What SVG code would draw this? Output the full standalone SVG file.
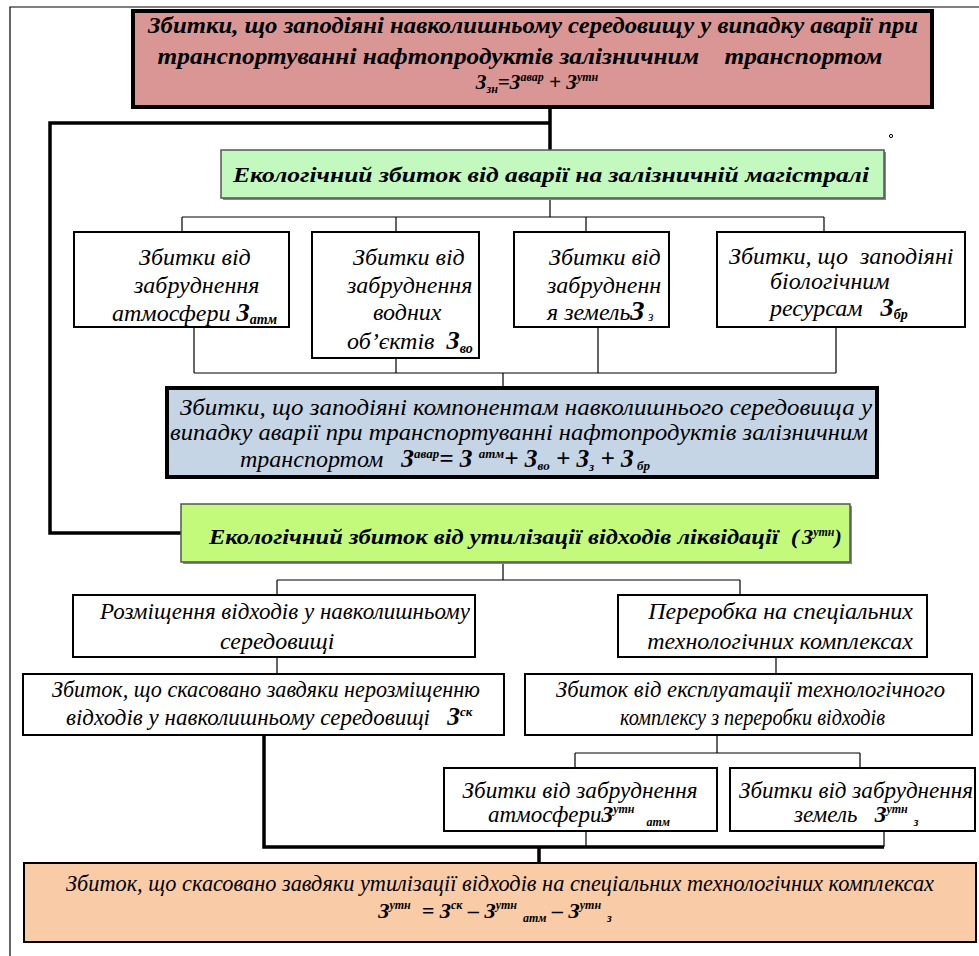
<svg xmlns="http://www.w3.org/2000/svg" width="979" height="956" viewBox="0 0 979 956">
<defs>
<style>
.bx{stroke:#000;stroke-width:2;fill:#fff}
.thk{stroke:#000;stroke-width:4}
.gr{stroke:#555;stroke-width:1.5}
.sh{fill:#8a8a8a}
.ln{stroke:#000;stroke-width:1.2;fill:none}
.tl{stroke:#000;stroke-width:3.5;fill:none}
</style>
</defs>
<path d="M10,956 V7 H979" fill="none" stroke="#000" stroke-width="1.2"/>
<circle cx="891" cy="136" r="1.6" fill="none" stroke="#000" stroke-width="1"/>
<g id="connectors">
<path class="tl" d="M550,107 V150 M550,123 H50 V533 H181"/>
<path class="ln" d="M550,198 V217 M182,217 H824 M182,217 V232 M396,217 V232 M586,217 V232 M824,217 V232"/>
<path class="ln" d="M194,327 V373 M396,358 V373 M598,327 V373 M836,327 V373 M194,373 H836 M503,373 V388"/>
<path class="ln" d="M503,562 V580 M277,580 H740 M277,580 V595 M740,580 V595"/>
<path class="ln" d="M277,657 V674 M776,657 V674 M717,735 V753 M575,753 H860 M575,753 V768 M860,753 V768"/>
<path class="ln" d="M586,831 V847 M884,831 V847"/>
<path class="tl" d="M264,735 V847 H884 M539,847 V863"/>
</g>
<g id="top">
<rect x="133" y="11" width="799" height="96" fill="#d99694" class="thk"/>
<text font-family="Liberation Serif" font-style="italic" font-weight="bold" font-size="23" x="533" y="33" text-anchor="middle" textLength="770" lengthAdjust="spacingAndGlyphs">Збитки, що заподіяні навколишньому середовищу у випадку аварії при</text>
<text font-family="Liberation Serif" font-style="italic" font-weight="bold" font-size="23" x="520" y="64" text-anchor="middle" textLength="725" lengthAdjust="spacingAndGlyphs">транспортуванні нафтопродуктів залізничним &#160; &#160;транспортом</text>
<text font-family="Liberation Serif" font-style="italic" font-weight="bold" font-size="21" x="537" y="89" text-anchor="middle">З<tspan font-size="12" dy="4">зн</tspan><tspan dy="-4">=З</tspan><tspan font-size="12" dy="-8">авар</tspan><tspan dy="8"> + З</tspan><tspan font-size="12" dy="-8">утн</tspan></text>
</g>
<g id="green1">
<rect x="223" y="152" width="663" height="48" class="sh"/>
<rect x="221" y="150" width="663" height="48" fill="#c3f9bf" class="gr"/>
<text font-family="Liberation Serif" font-style="italic" font-weight="bold" font-size="22" x="551" y="182" text-anchor="middle" textLength="636" lengthAdjust="spacingAndGlyphs">Екологічний збиток від аварії на залізничній магістралі</text>
</g>
<g id="boxA">
<rect x="74" y="232" width="215" height="95" class="bx"/>
<text font-family="Liberation Serif" font-style="italic" font-size="24" x="139" y="265">Збитки від</text>
<text font-family="Liberation Serif" font-style="italic" font-size="24" x="134" y="293">забруднення</text>
<text font-family="Liberation Serif" font-style="italic" font-size="24" x="112" y="321">атмосфери <tspan font-weight="bold" font-size="26">З</tspan><tspan font-weight="bold" font-size="14" dy="3">атм</tspan></text>
</g>
<g id="boxB">
<rect x="312" y="232" width="167" height="126" class="bx"/>
<text font-family="Liberation Serif" font-style="italic" font-size="24" x="353" y="265">Збитки від</text>
<text font-family="Liberation Serif" font-style="italic" font-size="24" x="347" y="293">забруднення</text>
<text font-family="Liberation Serif" font-style="italic" font-size="24" x="373" y="320">водних</text>
<text font-family="Liberation Serif" font-style="italic" font-size="24" x="347" y="349">об’єктів &#160;<tspan font-weight="bold" font-size="26">З</tspan><tspan font-weight="bold" font-size="14" dy="4">во</tspan></text>
</g>
<g id="boxC">
<rect x="514" y="232" width="155" height="95" class="bx"/>
<text font-family="Liberation Serif" font-style="italic" font-size="24" x="549" y="265">Збитки від</text>
<text font-family="Liberation Serif" font-style="italic" font-size="24" x="547" y="293">забрудненн</text>
<text font-family="Liberation Serif" font-style="italic" font-size="24" x="547" y="320">я земель<tspan font-weight="bold" font-size="28">З</tspan><tspan font-size="14" dy="1"> з</tspan></text>
</g>
<g id="boxD">
<rect x="717" y="232" width="248" height="95" class="bx"/>
<text font-family="Liberation Serif" font-style="italic" font-size="24" x="729" y="264">Збитки, що &#160;заподіяні</text>
<text font-family="Liberation Serif" font-style="italic" font-size="24" x="770" y="289">біологічним</text>
<text font-family="Liberation Serif" font-style="italic" font-size="24" x="770" y="316">ресурсам &#160; <tspan font-weight="bold" font-size="26">З</tspan><tspan font-weight="bold" font-size="14" dy="3">бр</tspan></text>
</g>
<g id="blue">
<rect x="169" y="390" width="710" height="89" class="sh"/>
<rect x="167" y="388" width="710" height="89" fill="#c6d5e6" class="thk"/>
<text font-family="Liberation Serif" font-style="italic" font-size="23" x="180" y="415" textLength="692" lengthAdjust="spacingAndGlyphs">Збитки, що заподіяні компонентам навколишнього середовища у</text>
<text font-family="Liberation Serif" font-style="italic" font-size="23" x="170" y="440" textLength="698" lengthAdjust="spacingAndGlyphs">випадку аварії при транспортуванні нафтопродуктів залізничним</text>
<text font-family="Liberation Serif" font-style="italic" font-size="24" x="240" y="467">транспортом &#160; <tspan font-weight="bold" font-size="25">З</tspan><tspan font-weight="bold" font-size="13" dy="-9">авар</tspan><tspan font-weight="bold" font-size="25" dy="9">= З </tspan><tspan font-weight="bold" font-size="13" dy="-9">атм</tspan><tspan font-weight="bold" font-size="25" dy="9">+ З</tspan><tspan font-weight="bold" font-size="13" dy="3">во</tspan><tspan font-weight="bold" font-size="25" dy="-3"> + З</tspan><tspan font-weight="bold" font-size="13" dy="4">з</tspan><tspan font-weight="bold" font-size="25" dy="-4"> + З</tspan><tspan font-weight="bold" font-size="13" dy="3"> бр</tspan></text>
</g>
<g id="green2">
<rect x="183" y="506" width="669" height="58" class="sh"/>
<rect x="181" y="504" width="669" height="58" fill="#c4fa7c" class="gr"/>
<text font-family="Liberation Serif" font-style="italic" font-weight="bold" font-size="22" x="209" y="544" textLength="590" lengthAdjust="spacingAndGlyphs">Екологічний збиток від утилізації відходів ліквідації &#160;(</text>
<text font-family="Liberation Serif" font-style="italic" font-weight="bold" font-size="22" x="802" y="544">З<tspan font-size="12" dy="-8">утн</tspan><tspan dy="8">)</tspan></text>
</g>
<g id="boxE">
<rect x="73" y="595" width="402" height="62" class="bx"/>
<text font-family="Liberation Serif" font-style="italic" font-size="23" x="100" y="619" textLength="370" lengthAdjust="spacingAndGlyphs">Розміщення відходів у навколишньому</text>
<text font-family="Liberation Serif" font-style="italic" font-size="24" x="220" y="649">середовищі</text>
</g>
<g id="boxF">
<rect x="618" y="595" width="309" height="62" class="bx"/>
<text font-family="Liberation Serif" font-style="italic" font-size="24" x="913" y="619" text-anchor="end">Переробка на спеціальних</text>
<text font-family="Liberation Serif" font-style="italic" font-size="24" x="913" y="649" text-anchor="end">технологічних комплексах</text>
</g>
<g id="boxG">
<rect x="23" y="674" width="481" height="61" class="bx"/>
<text font-family="Liberation Serif" font-style="italic" font-size="23" x="52" y="697" textLength="428" lengthAdjust="spacingAndGlyphs">Збиток, що скасовано завдяки нерозміщенню</text>
<text font-family="Liberation Serif" font-style="italic" font-size="23" x="66" y="725">відходів у навколишньому середовищі &#160; <tspan font-weight="bold" font-size="25">З</tspan><tspan font-weight="bold" font-size="13" dy="-9">ск</tspan></text>
</g>
<g id="boxH">
<rect x="525" y="674" width="447" height="61" class="bx"/>
<text font-family="Liberation Serif" font-style="italic" font-size="23" x="556" y="697" textLength="389" lengthAdjust="spacingAndGlyphs">Збиток від експлуатації технологічного</text>
<text font-family="Liberation Serif" font-style="italic" font-size="23" x="620" y="725" textLength="265" lengthAdjust="spacingAndGlyphs">комплексу з переробки відходів</text>
</g>
<g id="boxI">
<rect x="444" y="768" width="273" height="63" class="bx"/>
<text font-family="Liberation Serif" font-style="italic" font-size="23" x="580" y="798" text-anchor="middle" textLength="235" lengthAdjust="spacingAndGlyphs">Збитки від забруднення</text>
<text font-family="Liberation Serif" font-style="italic" font-size="23" x="488" y="822">атмосфери<tspan font-weight="bold">З</tspan><tspan font-weight="bold" font-size="12" dy="-9">утн</tspan><tspan font-weight="bold" font-size="12" dy="13">&#160; &#160; атм</tspan></text>
</g>
<g id="boxJ">
<rect x="730" y="768" width="245" height="63" class="bx"/>
<text font-family="Liberation Serif" font-style="italic" font-size="23" x="856" y="798" text-anchor="middle" textLength="234" lengthAdjust="spacingAndGlyphs">Збитки від забруднення</text>
<text font-family="Liberation Serif" font-style="italic" font-size="23" x="794" y="822">земель &#160; <tspan font-weight="bold">З</tspan><tspan font-weight="bold" font-size="12" dy="-9">утн</tspan><tspan font-weight="bold" font-size="12" dy="13">&#160; з</tspan></text>
</g>
<g id="bottom">
<rect x="24" y="863" width="952" height="79" fill="#f9cba7" stroke="#000" stroke-width="2"/>
<text font-family="Liberation Serif" font-style="italic" font-size="23" x="500" y="891" text-anchor="middle" textLength="868" lengthAdjust="spacingAndGlyphs">Збиток, що скасовано завдяки утилізації відходів на спеціальних технологічних комплексах</text>
<text font-family="Liberation Serif" font-style="italic" font-weight="bold" font-size="22" x="495" y="918" text-anchor="middle">З<tspan font-size="12" dy="-9">утн</tspan><tspan dy="9"> &#160;= З</tspan><tspan font-size="12" dy="-9">ск</tspan><tspan dy="9"> – З</tspan><tspan font-size="12" dy="-9">утн</tspan><tspan font-size="12" dy="13">&#160; атм</tspan><tspan dy="-4"> – З</tspan><tspan font-size="12" dy="-9">утн</tspan><tspan font-size="12" dy="13">&#160; з</tspan></text>
</g>
</svg>
